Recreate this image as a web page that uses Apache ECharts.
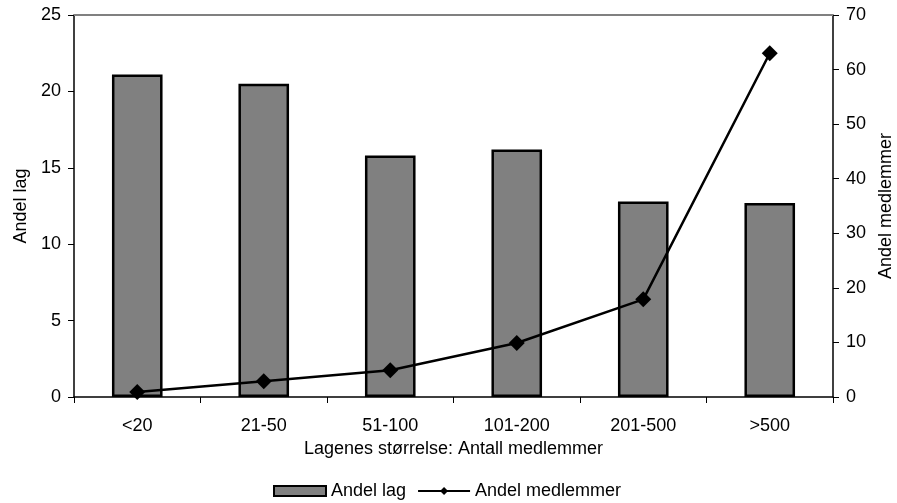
<!DOCTYPE html>
<html><head><meta charset="utf-8">
<script src="https://cdn.jsdelivr.net/npm/echarts@6/dist/echarts.min.js"></script>
<style>html,body{margin:0;padding:0;background:#fff}#c{width:897px;height:503px}</style>
</head><body><div id="c"></div>
<script>
var categories = ['<20', '21-50', '51-100', '101-200', '201-500', '>500'];
var andelLag = [21.1, 20.5, 15.8, 16.2, 12.8, 12.7];
var andelMedlemmer = [0.9, 2.9, 4.9, 9.9, 17.9, 63];
var leftTicks = [0, 5, 10, 15, 20, 25];
var rightTicks = [0, 10, 20, 30, 40, 50, 60, 70];

var font = '"Liberation Sans", Arial, sans-serif';
var fs = 18;
var chart = echarts.init(document.getElementById('c'));
chart.setOption({
  animation: false,
  textStyle: {fontFamily: font, color: '#000'},
  grid: {left: 74, right: 64, top: 15, bottom: 106, show: false, containLabel: false, outerBoundsMode: 'none'},
  legend: {
    bottom: -2, left: 268, itemGap: 11, itemWidth: 52, itemHeight: 10,
    textStyle: {fontFamily: font, fontSize: fs, color: '#000'},
    data: [
      {name: 'Andel lag', icon: 'rect'},
      {name: 'Andel medlemmer'}
    ]
  },
  xAxis: {
    type: 'category', data: categories,
    name: 'Lagenes størrelse: Antall medlemmer', nameLocation: 'middle', nameGap: 41,
    nameTextStyle: {fontFamily: font, fontSize: fs, color: '#000'},
    axisLine: {lineStyle: {color: '#000', width: 1.5}},
    axisTick: {show: true, alignWithLabel: false, length: 6, lineStyle: {color: '#000'}},
    axisLabel: {fontFamily: font, fontSize: fs, color: '#000', margin: 20}
  },
  yAxis: [
    {
      type: 'value', min: 0, max: 25, interval: 5,
      name: 'Andel lag', nameLocation: 'middle', nameGap: 44, nameRotate: 90,
      nameTextStyle: {fontFamily: font, fontSize: fs, color: '#000'},
      axisLine: {show: true, lineStyle: {color: '#000', width: 1.5}},
      axisTick: {show: true, length: 6, lineStyle: {color: '#000'}},
      axisLabel: {fontFamily: font, fontSize: fs, color: '#000', margin: 13,
        formatter: function (v) { return leftTicks.indexOf(v) >= 0 ? String(v) : ''; }},
      splitLine: {show: false}
    },
    {
      type: 'value', min: 0, max: 70, interval: 10,
      name: 'Andel medlemmer', nameLocation: 'middle', nameGap: 43, nameRotate: 90,
      nameTextStyle: {fontFamily: font, fontSize: fs, color: '#000'},
      axisLine: {show: true, lineStyle: {color: '#000', width: 1.5}},
      axisTick: {show: true, length: 6, lineStyle: {color: '#000'}},
      axisLabel: {fontFamily: font, fontSize: fs, color: '#000', margin: 13,
        formatter: function (v) { return rightTicks.indexOf(v) >= 0 ? String(v) : ''; }},
      splitLine: {show: false}
    }
  ],
  series: [
    {
      name: 'Andel lag', type: 'bar', data: andelLag, barWidth: '40%',
      itemStyle: {color: '#808080', borderColor: '#000', borderWidth: 2.5},
      markLine: {
        silent: true, symbol: 'none', label: {show: false},
        lineStyle: {color: '#808080', width: 2, type: 'solid'},
        data: [{yAxis: 25}]
      }
    },
    {
      name: 'Andel medlemmer', type: 'line', yAxisIndex: 1, data: andelMedlemmer,
      symbol: 'diamond', symbolSize: 16, showAllSymbol: true,
      lineStyle: {color: '#000', width: 2.5},
      itemStyle: {color: '#000'}
    }
  ]
});
</script></body></html>
